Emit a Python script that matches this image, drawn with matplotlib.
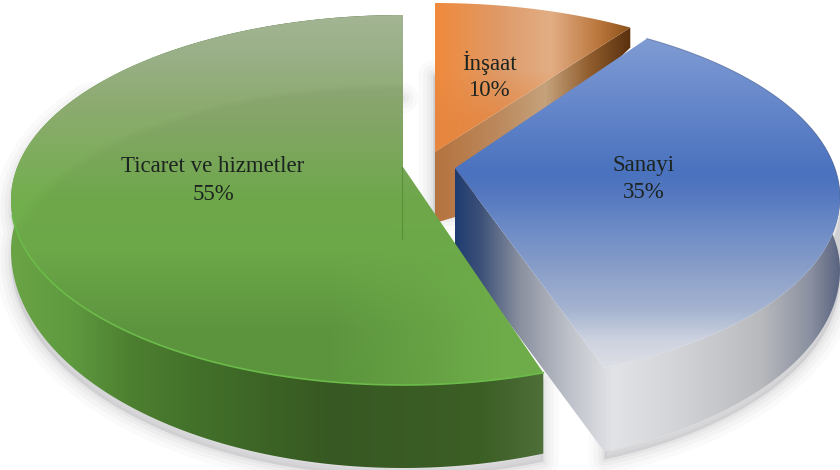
import numpy as np
import matplotlib
matplotlib.use('Agg')
import matplotlib.pyplot as plt
from matplotlib.colors import to_rgb
from matplotlib.patches import PathPatch
from matplotlib.path import Path

labels = ['Ticaret ve hizmetler', 'Sanayi', 'İnşaat']
shares = [55, 35, 10]

W, H = 840, 470
RX, RY = 392, 185

# geometry of each exploded slice, in pixels of the picture
green = dict(cx=403, cy=200, apex=(403, 167), start=0, sign=-1, stretch=1.015, h0=50, h1=33)
blue = dict(cx=448, cy=198, apex=(455, 168), start=30.5, sign=1, stretch=1.0, h0=72, h1=13)
orange = dict(cx=435, cy=188, apex=(435, 152), start=0, sign=1, stretch=0.83, h0=20, h1=0)

label_xy = [(213, 166), (644, 165), (489, 63)]
line_gap = 28


def ramp(stops, n):
    pos = [s[0] for s in stops]
    cols = np.array([to_rgb(s[1]) for s in stops])
    xs = np.arange(n)
    return np.stack([np.interp(xs, pos, cols[:, i]) for i in range(3)], axis=1)


def x_image(stops):
    return np.repeat(ramp(stops, W)[np.newaxis, :, :], H, axis=0)


def y_image(stops):
    return np.repeat(ramp(stops, H)[:, np.newaxis, :], W, axis=1)


def rim(s, share):
    span = share / 100 * 360 * s['stretch']
    t = np.radians(s['start'] + s['sign'] * np.linspace(0, span, 200))
    x = s['cx'] + RX * np.sin(t)
    y = s['cy'] - RY * np.cos(t)
    h = s['h0'] + s['h1'] * np.maximum(-np.cos(t), 0)
    return x, y, h


def closed(x, y):
    verts = np.column_stack([np.append(x, x[0]), np.append(y, y[0])])
    return Path(verts, closed=True)


def fill_image(ax, img, path, z):
    im = ax.imshow(img, extent=(0, W, H, 0), origin='upper', zorder=z, interpolation='bilinear', aspect='auto')
    patch = PathPatch(path, transform=ax.transData, fc='none', ec='none')
    ax.add_patch(patch)
    im.set_clip_path(patch)


def soft_shadow(ax, x, y, dx=0, dy=8):
    for lw, a in [(22, 0.03), (15, 0.04), (9, 0.05), (4, 0.06)]:
        ax.fill(x + dx, y + dy, color='#70707a', alpha=a, lw=lw, joinstyle='round', zorder=1)


def top_path(s, x, y):
    return closed(np.r_[s['apex'][0], x], np.r_[s['apex'][1], y])


def wall_path(x, y, h):
    return closed(np.r_[x, x[::-1]], np.r_[y, (y + h)[::-1]])


def inner_band(xx, yy, cx, cy, rx, ry, amount):
    # the slightly darker dish inside the far rim
    d = np.sqrt(((xx - cx) / rx) ** 2 + ((yy - cy) / ry) ** 2)
    return (1 - amount * np.clip((1.0 - d) / 0.03, 0, 1))[:, :, np.newaxis]


fig = plt.figure(figsize=(W / 100, H / 100), dpi=100)
ax = fig.add_axes([0, 0, 1, 1])

gx, gy, gh = rim(green, shares[0])
bx, by, bh = rim(blue, shares[1])
ox, oy, oh = rim(orange, shares[2])
yy, xx = np.mgrid[0:H, 0:W]

# shadows, only on the near side of each slice
g_near = gy > 90
soft_shadow(ax, np.r_[green['apex'][0], gx[g_near], gx[g_near][::-1]],
            np.r_[90, gy[g_near], (gy + gh)[g_near][::-1]])
b_near = by > 190
soft_shadow(ax, np.r_[bx[b_near], bx[b_near][::-1]], np.r_[by[b_near], (by + bh)[b_near][::-1]])
soft_shadow(ax, np.array([orange['apex'][0], orange['apex'][0] + 20, orange['apex'][0] + 20, orange['apex'][0]]),
            np.array([75, 75, 215, 215]), dx=-2, dy=0)

# orange slice
o_cut = closed(np.array([orange['apex'][0], ox[-1], ox[-1], orange['apex'][0] + 20, orange['apex'][0]]),
               np.array([orange['apex'][1], oy[-1], oy[-1] + oh[-1], orange['apex'][1] + 65, orange['apex'][1] + 71]))
fill_image(ax, x_image([(435, '#B5733F'), (500, '#BC8A5E'), (545, '#C5A27C'), (590, '#8F5C2C'), (630, '#5A300E')]),
           o_cut, 2)
o_img = x_image([(435, '#F08A3C'), (500, '#DE9A68'), (550, '#E3AE85'), (600, '#B8743A'), (630, '#8A5019')])
o_low = np.array(to_rgb('#E5853F'))
mix = (np.clip((yy - 70) / 50, 0, 1) * 0.75)[:, :, np.newaxis]
fill_image(ax, o_img * (1 - mix) + o_low * mix, top_path(orange, ox, oy), 3)

# blue slice
b_side = [(455, '#1E3C70'), (480, '#3C5078'), (520, '#8A919F'), (570, '#BFC2CA'), (612, '#E2E3E7'), (680, '#D2D3D7'),
          (760, '#B9BABD'), (810, '#8A90A0'), (839, '#5A6480')]
ax_b, ay_b = blue['apex']
b_cut = closed(np.array([ax_b, bx[-1], bx[-1], ax_b]),
               np.array([ay_b, by[-1], by[-1] + bh[-1], ay_b + 82]))
fill_image(ax, x_image(b_side), b_cut, 4)
fill_image(ax, x_image(b_side), wall_path(bx, by, bh), 4)
fill_image(ax, y_image([(39, '#7F9BD3'), (100, '#6788CB'), (172, '#4A72BE'), (195, '#5578C0'), (230, '#6E8CC6'),
                        (270, '#8A9FC9'), (310, '#A6B4D0'), (340, '#CDD2DF'), (368, '#DFE0E6')]),
           top_path(blue, bx, by), 5)
ax.plot(bx[by < 200], by[by < 200], color='#4F6596', lw=0.7, alpha=0.6, zorder=6)

# green slice
fill_image(ax, x_image([(10, '#6AA446'), (70, '#5F9A3F'), (130, '#4D7F30'), (200, '#42702A'), (330, '#375822'),
                        (480, '#3C5F26'), (542, '#4E6F38')]),
           wall_path(gx, gy, gh), 7)
g_img = y_image([(15, '#A3B594'), (60, '#98AF85'), (100, '#8EAB72'), (200, '#72AE4D'), (250, '#70AE4B'),
                 (330, '#609A41'), (385, '#5E9A3E')])
g_high = np.array(to_rgb('#72B24C'))
mix = (np.clip((xx - 330) / 170, 0, 1) * np.clip((yy - 220) / 60, 0, 1))[:, :, np.newaxis]
g_img = (g_img * (1 - mix) + g_high * mix) * inner_band(xx, yy, 403, 265, 400, 182, 0.035)
fill_image(ax, g_img, top_path(green, gx, gy), 8)

# bright lip along the near rim of the green slice, faint crease from the centre
near = gy > 215
ax.plot(gx[near], gy[near], color='#6CBB4A', lw=1.2, zorder=9)
ax.plot([green['apex'][0] - 1] * 2, [green['apex'][1], green['apex'][1] + 72], color='#4F8A35', lw=0.8, alpha=0.7, zorder=9)

for name, share, (tx, ty) in zip(labels, shares, label_xy):
    ax.text(tx, ty, name, family='Liberation Serif', fontsize=16.5, color='#1c2420', ha='center', va='center', zorder=10)
    ax.text(tx, ty + line_gap, f'{share}%', family='Liberation Serif', fontsize=16.5, color='#1c2420', ha='center',
            va='center', zorder=10)

ax.set_xlim(0, W)
ax.set_ylim(H, 0)
ax.axis('off')
fig.savefig('out.png', dpi=100, facecolor='white')
